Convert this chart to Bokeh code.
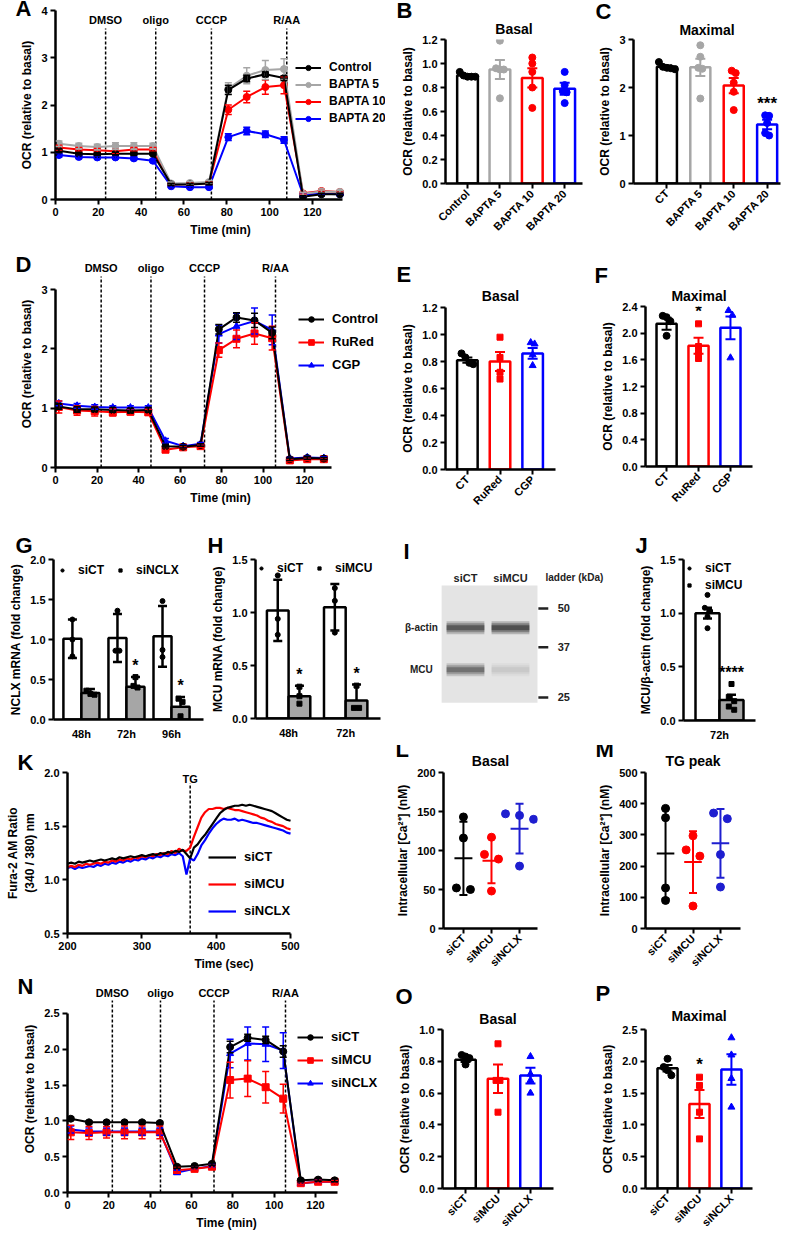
import math
import numpy as np
from bokeh.plotting import figure
from bokeh.models import (Range1d, FixedTicker, NumeralTickFormatter, Whisker, TeeHead,
                          ColumnDataSource, Label, Legend, LegendItem, Title)
from bokeh.layouts import row, column
from bokeh.embed import file_html
from bokeh.resources import INLINE
from bokeh.core.properties import value

FONT = "Liberation Sans"
BLACK, GREY, RED, BLUE = "#000000", "#a6a6a6", "#ff0000", "#0000ff"
DBLUE = "#1e1ecf"
BARGREY = "#a6a6a6"

# ====================== DATA ======================
event_labels = ["DMSO", "oligo", "CCCP", "R/AA"]
time_ticks = [0, 20, 40, 60, 80, 100, 120]

# Panel A (OCR, BAPTA)
a_time = [1.6, 10.9, 19.5, 28.0, 36.6, 45.5, 54.0, 62.8, 71.7, 80.7, 89.3, 98.0, 106.7, 115.6, 124.2, 132.8]
a_events = [23.4, 46.8, 72.8, 108.0]
a_ctrl = [1.03, 0.97, 0.96, 0.97, 0.97, 0.97, 0.32, 0.32, 0.34, 2.32, 2.56, 2.65, 2.57, 0.06, 0.11, 0.11]
a_ctrl_e = [0.04, 0.03, 0.03, 0.03, 0.03, 0.03, 0.02, 0.02, 0.02, 0.10, 0.07, 0.05, 0.05, 0.02, 0.02, 0.02]
a_b5 = [1.18, 1.13, 1.11, 1.13, 1.13, 1.13, 0.34, 0.35, 0.37, 2.35, 2.62, 2.74, 2.76, 0.12, 0.17, 0.16]
a_b5_e = [0.06, 0.06, 0.06, 0.07, 0.07, 0.06, 0.03, 0.03, 0.03, 0.12, 0.17, 0.20, 0.22, 0.03, 0.03, 0.03]
a_b10 = [1.10, 1.06, 1.04, 1.02, 1.06, 1.06, 0.32, 0.33, 0.35, 1.90, 2.17, 2.38, 2.42, 0.13, 0.18, 0.16]
a_b10_e = [0.05, 0.04, 0.04, 0.04, 0.04, 0.04, 0.02, 0.02, 0.02, 0.10, 0.12, 0.15, 0.18, 0.02, 0.02, 0.02]
a_b20 = [0.94, 0.90, 0.89, 0.89, 0.87, 0.82, 0.28, 0.26, 0.26, 1.32, 1.45, 1.38, 1.26, 0.10, 0.12, 0.11]
a_b20_e = [0.04, 0.03, 0.03, 0.03, 0.03, 0.03, 0.02, 0.02, 0.02, 0.07, 0.08, 0.07, 0.07, 0.02, 0.02, 0.02]

# Panel B / C
b_cats = ["Control", "BAPTA 5", "BAPTA 10", "BAPTA 20"]
b_mean = [0.90, 0.95, 0.88, 0.79]
b_sem = [0.01, 0.08, 0.08, 0.05]
b_pts = [[0.93, 0.90, 0.89, 0.89, 0.89], [1.19, 0.96, 0.95, 0.95, 0.71],
         [1.05, 1.00, 0.93, 0.80, 0.63], [0.93, 0.82, 0.77, 0.76, 0.67]]
c_cats = ["CT", "BAPTA 5", "BAPTA 10", "BAPTA 20"]
c_mean = [2.43, 2.42, 2.04, 1.23]
c_sem = [0.03, 0.18, 0.16, 0.10]
c_pts = [[2.53, 2.43, 2.41, 2.40, 2.38], [2.88, 2.64, 2.41, 2.39, 1.77],
         [2.35, 2.30, 2.10, 1.91, 1.53], [1.42, 1.41, 1.26, 1.05, 1.00]]

# Panel D (OCR, RuRed / CGP)
d_time = [1.6, 10.4, 18.9, 27.6, 36.1, 44.7, 53.0, 61.5, 69.9, 78.7, 87.2, 95.9, 104.4, 112.9, 121.3, 129.3]
d_events = [22.0, 46.0, 71.8, 106.0]
d_ctrl = [1.03, 0.98, 0.98, 0.97, 0.96, 0.97, 0.36, 0.35, 0.38, 2.33, 2.53, 2.48, 2.27, 0.14, 0.16, 0.15]
d_ctrl_e = [0.05, 0.05, 0.04, 0.04, 0.04, 0.04, 0.03, 0.02, 0.02, 0.08, 0.08, 0.12, 0.10, 0.02, 0.02, 0.02]
d_rured = [1.02, 0.96, 0.95, 0.93, 0.94, 0.93, 0.30, 0.34, 0.36, 1.98, 2.17, 2.26, 2.18, 0.12, 0.14, 0.14]
d_rured_e = [0.10, 0.08, 0.08, 0.06, 0.05, 0.05, 0.03, 0.02, 0.02, 0.12, 0.15, 0.18, 0.20, 0.02, 0.02, 0.02]
d_cgp = [1.08, 1.04, 1.02, 1.01, 1.01, 1.01, 0.45, 0.36, 0.40, 2.25, 2.38, 2.47, 2.32, 0.15, 0.17, 0.16]
d_cgp_e = [0.04, 0.04, 0.04, 0.03, 0.03, 0.03, 0.04, 0.02, 0.02, 0.15, 0.22, 0.22, 0.25, 0.02, 0.02, 0.02]

# Panel E / F
e_cats = ["CT", "RuRed", "CGP"]
e_mean = [0.81, 0.80, 0.86]
e_sem = [0.02, 0.07, 0.04]
e_pts = [[0.86, 0.83, 0.79, 0.78], [0.98, 0.83, 0.72, 0.67], [0.94, 0.93, 0.85, 0.77]]
f_mean = [2.14, 1.81, 2.08]
f_sem = [0.09, 0.12, 0.17]
f_pts = [[2.26, 2.24, 2.18, 1.96], [2.14, 1.80, 1.71, 1.62], [2.34, 2.27, 1.63]]

# Panel G (NCLX mRNA)
g_groups = ["48h", "72h", "96h"]
g_series = ["siCT", "siNCLX"]
g_mean = [[1.01, 1.02, 1.04], [0.33, 0.41, 0.16]]
g_sd = [[0.24, 0.30, 0.38], [0.05, 0.12, 0.12]]
g_pts = [[[1.25, 1.00, 0.79], [1.36, 0.86, 0.86], [1.48, 0.87, 0.78]],
         [[0.36, 0.32, 0.31], [0.53, 0.42, 0.40], [0.26, 0.22, 0.04]]]
g_stars = [(1, 1, "*"), (1, 2, "*")]

# Panel H (MCU mRNA)
h_groups = ["48h", "72h"]
h_series = ["siCT", "siMCU"]
h_mean = [[1.02, 1.05], [0.21, 0.17]]
h_sd = [[0.29, 0.22], [0.10, 0.15]]
h_pts = [[[1.35, 0.94, 0.79], [1.23, 1.11, 0.81]], [[0.30, 0.21, 0.14], [0.31, 0.10, 0.10]]]
h_stars = [(1, 0, "*"), (1, 1, "*")]

# Panel I (western blot)
blot_lanes = ["siCT", "siMCU"]
blot_bands = ["β-actin", "MCU"]
band_kda = [43, 31]
band_intensity = [[0.85, 0.95], [0.65, 0.12]]
ladder_kda = [50, 37, 25]

# Panel J
j_groups = ["72h"]
j_series = ["siCT", "siMCU"]
j_mean = [[1.00], [0.19]]
j_sem = [[0.05], [0.05]]
j_pts = [[[1.17, 1.05, 1.02, 0.97, 0.86]], [[0.34, 0.22, 0.18, 0.13, 0.10]]]
j_stars = [(1, 0, "****")]

# Panel K (Fura-2 traces)
k_time = list(range(200, 505, 5))
k_tg = 365
k_sict = [1.15, 1.16, 1.15, 1.17, 1.16, 1.17, 1.18, 1.17, 1.18, 1.19, 1.18, 1.19, 1.20, 1.19, 1.21, 1.20,
          1.21, 1.22, 1.21, 1.22, 1.23, 1.22, 1.23, 1.24, 1.23, 1.25, 1.24, 1.26, 1.25, 1.27, 1.26, 1.28,
          1.24, 1.20, 1.30, 1.33, 1.38, 1.42, 1.47, 1.52, 1.57, 1.62, 1.65, 1.67, 1.68, 1.69, 1.69, 1.70,
          1.69, 1.70, 1.69, 1.68, 1.67, 1.66, 1.65, 1.64, 1.62, 1.60, 1.58, 1.56, 1.55]
k_simcu = [1.12, 1.13, 1.12, 1.14, 1.13, 1.15, 1.14, 1.15, 1.16, 1.15, 1.17, 1.16, 1.18, 1.17, 1.19, 1.18,
           1.20, 1.19, 1.21, 1.20, 1.22, 1.21, 1.23, 1.22, 1.24, 1.23, 1.25, 1.24, 1.27, 1.25, 1.29, 1.27,
           1.27, 1.30, 1.40, 1.49, 1.58, 1.63, 1.66, 1.66, 1.67, 1.67, 1.66, 1.67, 1.66, 1.65, 1.65, 1.64,
           1.63, 1.62, 1.61, 1.60, 1.58, 1.57, 1.55, 1.54, 1.52, 1.51, 1.50, 1.48, 1.47]
k_sinclx = [1.11, 1.12, 1.10, 1.12, 1.11, 1.12, 1.13, 1.12, 1.14, 1.13, 1.15, 1.14, 1.16, 1.15, 1.17, 1.16,
            1.18, 1.17, 1.19, 1.18, 1.20, 1.19, 1.21, 1.20, 1.22, 1.21, 1.23, 1.22, 1.24, 1.23, 1.25, 1.22,
            1.05, 1.20, 1.18, 1.24, 1.32, 1.37, 1.43, 1.48, 1.52, 1.55, 1.57, 1.56, 1.56, 1.57, 1.55, 1.56,
            1.55, 1.54, 1.53, 1.53, 1.52, 1.51, 1.50, 1.49, 1.48, 1.47, 1.46, 1.44, 1.43]

# Panel L / M (Ca2+)
si_cats = ["siCT", "siMCU", "siNCLX"]
l_pts = [[143, 116, 50, 52], [117, 95, 89, 48], [147, 145, 140, 80]]
l_mean = [90, 87, 128]
l_sd = [47, 29, 32]
m_pts = [[385, 355, 130, 90], [297, 252, 232, 72], [370, 352, 237, 133]]
m_mean = [240, 213, 273]
m_sd = [145, 99, 110]

# Panel N (OCR, siRNA)
n_time = [1.6, 10.4, 18.9, 27.6, 36.1, 44.7, 53.0, 61.5, 69.9, 78.7, 87.2, 95.9, 104.4, 112.9, 121.3, 129.3]
n_events = [21.7, 45.0, 70.9, 105.5]
n_sict = [1.03, 0.98, 0.98, 0.98, 0.98, 0.97, 0.36, 0.37, 0.40, 2.03, 2.16, 2.13, 1.97, 0.17, 0.18, 0.17]
n_sict_e = [0.02, 0.02, 0.02, 0.02, 0.02, 0.02, 0.02, 0.02, 0.02, 0.08, 0.05, 0.05, 0.08, 0.02, 0.02, 0.02]
n_simcu = [0.84, 0.83, 0.84, 0.84, 0.84, 0.84, 0.31, 0.33, 0.36, 1.57, 1.59, 1.47, 1.31, 0.13, 0.15, 0.15]
n_simcu_e = [0.10, 0.09, 0.08, 0.09, 0.09, 0.09, 0.04, 0.02, 0.02, 0.25, 0.25, 0.22, 0.20, 0.02, 0.02, 0.02]
n_sinclx = [0.88, 0.85, 0.85, 0.85, 0.85, 0.85, 0.28, 0.33, 0.37, 1.94, 2.08, 2.07, 1.98, 0.13, 0.15, 0.15]
n_sinclx_e = [0.05, 0.05, 0.05, 0.05, 0.05, 0.05, 0.03, 0.02, 0.02, 0.20, 0.23, 0.24, 0.25, 0.02, 0.02, 0.02]

# Panel O / P
o_mean = [0.81, 0.69, 0.71]
o_sem = [0.015, 0.09, 0.05]
o_pts = [[0.84, 0.83, 0.82, 0.78], [0.91, 0.68, 0.68, 0.48], [0.83, 0.72, 0.68, 0.60]]
p_mean = [1.89, 1.33, 1.87]
p_sem = [0.05, 0.22, 0.24]
p_pts = [[2.04, 1.91, 1.86, 1.78], [1.75, 1.62, 1.20, 0.78], [2.37, 2.10, 1.73, 1.28]]

# ====================== HELPERS ======================
MSIZE = {"circle": 7, "square": 6, "triangle": 7}


def mkfig(w, h, bl, br, bt, bb, xr, yr, **kw):
    p = figure(width=w, height=h, x_range=xr, y_range=yr, output_backend="svg",
               toolbar_location=None, tools="", title=None, frame_align=False,
               min_border_left=bl, min_border_right=br,
               min_border_top=bt, min_border_bottom=bb, **kw)
    p.grid.visible = False
    p.outline_line_color = None
    for ax in p.axis:
        ax.axis_line_width = 2.5
        ax.axis_line_color = "black"
        ax.major_tick_line_width = 2
        ax.major_tick_line_color = "black"
        ax.major_tick_out = 5
        ax.major_tick_in = 0
        ax.minor_tick_line_color = None
        ax.major_label_text_font = FONT
        ax.major_label_text_font_style = "bold"
        ax.major_label_text_font_size = "11px"
        ax.major_label_text_color = "black"
        ax.major_label_standoff = 3
        ax.axis_label_text_font = FONT
        ax.axis_label_text_font_style = "bold"
        ax.axis_label_text_font_size = "12px"
        ax.axis_label_text_color = "black"
        ax.axis_label_standoff = 4
    return p


def add_title(p, text, size, align, standoff, offset=0):
    p.add_layout(Title(text=text, align=align, vertical_align="bottom", standoff=standoff,
                       offset=offset, text_font=FONT, text_font_style="bold",
                       text_font_size=size, text_color="black"), "above")


def main_title(p, text, standoff):
    add_title(p, text, "14px", "center", standoff)


def letter(p, ch, offset, standoff):
    add_title(p, ch, "22px", "left", standoff, offset)


def txt(p, x, y, t, size="11px", align="center", baseline="middle", color="black"):
    p.text(x=x, y=y, text=t, text_align=value(align), text_baseline=value(baseline),
           text_font=value(FONT), text_font_style=value("bold"), text_font_size=value(size),
           text_color=value(color))


def errbar(p, x, lo, hi, color, cap=10, lw=2, lower=True):
    src = ColumnDataSource(dict(x=list(np.atleast_1d(x)), lo=list(np.atleast_1d(lo)),
                                hi=list(np.atleast_1d(hi))))
    w = Whisker(source=src, base="x", upper="hi", lower="lo", line_color=color, line_width=lw,
                level="annotation",
                upper_head=TeeHead(size=cap, line_color=color, line_width=lw),
                lower_head=TeeHead(size=cap, line_color=color, line_width=lw) if lower else None)
    p.add_layout(w)


def swarm(vals, thr, step):
    vals = np.asarray(vals, float)
    order = np.argsort(-vals)
    offs = np.zeros(len(vals))
    clusters, cur = [], [order[0]]
    for a, b in zip(order[:-1], order[1:]):
        if abs(vals[a] - vals[b]) <= thr:
            cur.append(b)
        else:
            clusters.append(cur)
            cur = [b]
    clusters.append(cur)
    for c in clusters:
        k = len(c)
        for j, i in enumerate(c):
            offs[i] = (j - (k - 1) / 2) * step
    return offs


def mklegend(p, items, loc, font="12px", lh=14, sp=4, gw=26, orient="vertical", standoff=8):
    leg = Legend(items=items, location=loc, orientation=orient,
                 label_text_font=FONT, label_text_font_style="bold", label_text_font_size=font,
                 label_text_color="black", glyph_width=gw, glyph_height=lh, label_height=lh,
                 spacing=sp, padding=0, margin=0, border_line_color=None,
                 background_fill_alpha=0, label_standoff=standoff)
    p.add_layout(leg)


def ocr_panel(dims, t, series, events, xend, xaxis_end, ytop, yaxis_max, yticks, fmt, label_y,
              line_top, leg_xy, leg_font, leg_lh, leg_sp):
    p = mkfig(*dims, Range1d(0, xend), Range1d(0, ytop))
    p.yaxis.bounds = (0, yaxis_max)
    p.xaxis.bounds = (0, xaxis_end)
    p.yaxis.ticker = FixedTicker(ticks=yticks)
    if fmt:
        p.yaxis.formatter = NumeralTickFormatter(format=fmt)
    p.xaxis.ticker = FixedTicker(ticks=time_ticks)
    p.xaxis.axis_label = "Time (min)"
    p.yaxis.axis_label = "OCR (relative to basal)"
    ne = len(events)
    p.segment(x0=events, y0=[0] * ne, x1=events, y1=[line_top] * ne, line_color="black",
              line_width=1.5, line_dash="3 2")
    txt(p, events, [label_y] * ne, event_labels, size="11px")
    rend = {}
    for name, m, e, col, mk in reversed(series):
        m = np.asarray(m)
        e = np.asarray(e)
        src = ColumnDataSource(dict(x=t, y=m, lo=m - e, hi=m + e))
        l = p.line("x", "y", source=src, line_color=col, line_width=2)
        s = p.scatter("x", "y", source=src, marker=mk, size=7, color=col)
        p.add_layout(Whisker(source=src, base="x", upper="hi", lower="lo", line_color=col,
                             line_width=1.5, level="annotation",
                             upper_head=TeeHead(size=7, line_color=col, line_width=1.5),
                             lower_head=TeeHead(size=7, line_color=col, line_width=1.5)))
        rend[name] = [l, s]
    items = [LegendItem(label=s[0], renderers=rend[s[0]]) for s in series]
    mklegend(p, items, leg_xy, font=leg_font, lh=leg_lh, sp=leg_sp)
    return p


def bar_panel(dims, cats, means, errs, pts, colors, markers, ytop, yticks, fmt, title, tstand,
              pad, star=None, bw=0.64, cap=10):
    n = len(cats)
    idx = list(range(n))
    p = mkfig(*dims, Range1d(-pad[0], n - 1 + pad[1]), Range1d(0, ytop))
    main_title(p, title, tstand)
    p.vbar(x=idx, top=means, width=bw, fill_color="white", line_color=colors, line_width=2.5)
    for i in idx:
        off = swarm(pts[i], 0.035 * ytop, 0.12)
        p.scatter(x=[i + o for o in off], y=pts[i], marker=markers[i], size=MSIZE[markers[i]],
                  color=colors[i])
        errbar(p, i, means[i] - errs[i], means[i] + errs[i], colors[i], cap)
    if star:
        i, s = star
        ys = max(max(pts[i]), means[i] + errs[i]) + 0.08 * ytop
        txt(p, [i], [ys], [s], size="17px")
    p.xaxis.ticker = FixedTicker(ticks=idx)
    p.xaxis.major_label_overrides = {i: c for i, c in enumerate(cats)}
    p.xaxis.major_label_orientation = math.pi / 4
    p.yaxis.ticker = FixedTicker(ticks=yticks)
    if fmt:
        p.yaxis.formatter = NumeralTickFormatter(format=fmt)
    p.yaxis.axis_label = "OCR (relative to basal)"
    return p


def grouped_panel(dims, groups, snames, means, errs, pts, ytop, yticks, ylabel, pad, stars,
                  leg_xy, orient, bw=0.4):
    n = len(groups)
    idx = np.arange(n)
    p = mkfig(*dims, Range1d(-pad[0], n - 1 + pad[1]), Range1d(0, ytop))
    fills = ["white", BARGREY]
    markers = ["circle", "square"]
    ns = len(snames)
    items = []
    xpos = []
    for j in range(ns):
        xs = idx + (j - (ns - 1) / 2) * bw
        xpos.append(xs)
        p.vbar(x=xs, top=means[j], width=bw, fill_color=fills[j], line_color="black", line_width=2.5)
        px, py = [], []
        for i in range(n):
            off = swarm(pts[j][i], 0.03 * ytop, 0.09)
            px += [xs[i] + o for o in off]
            py += list(pts[j][i])
        s = p.scatter(x=px, y=py, marker=markers[j], size=5, color="black")
        for i in range(n):
            lo = means[j][i] - errs[j][i] if j == 0 else means[j][i]
            errbar(p, xs[i], lo, means[j][i] + errs[j][i], "black", cap=9, lw=2.5, lower=(j == 0))
        items.append(LegendItem(label=snames[j], renderers=[s]))
    for j, i, s in stars:
        ys = max(max(pts[j][i]), means[j][i] + errs[j][i]) + 0.07 * ytop
        txt(p, [xpos[j][i]], [ys], [s], size="16px")
    p.xaxis.ticker = FixedTicker(ticks=list(idx))
    p.xaxis.major_label_overrides = {int(i): g for i, g in zip(idx, groups)}
    p.xaxis.major_tick_line_color = None
    p.yaxis.ticker = FixedTicker(ticks=yticks)
    p.yaxis.formatter = NumeralTickFormatter(format="0.0")
    p.yaxis.axis_label = ylabel
    mklegend(p, items, leg_xy, font="12px", lh=14, sp=12 if orient == "horizontal" else 3,
             gw=8, orient=orient, standoff=12)
    return p


def dot_panel(dims, cats, pts, means, sds, colors, ytop, yticks, title, tstand, pad):
    n = len(cats)
    idx = list(range(n))
    p = mkfig(*dims, Range1d(-pad[0], n - 1 + pad[1]), Range1d(0, ytop))
    main_title(p, title, tstand)
    for i in idx:
        off = swarm(pts[i], 0.045 * ytop, 0.5)
        p.scatter(x=[i + o for o in off], y=pts[i], marker="circle", size=8, color=colors[i])
    p.segment(x0=[i - 0.32 for i in idx], x1=[i + 0.32 for i in idx], y0=means, y1=means,
              line_color=colors, line_width=2)
    for i in idx:
        errbar(p, i, means[i] - sds[i], means[i] + sds[i], colors[i], cap=8, lw=2)
    p.xaxis.ticker = FixedTicker(ticks=idx)
    p.xaxis.major_label_overrides = {i: c for i, c in enumerate(cats)}
    p.xaxis.major_label_orientation = math.pi / 4
    p.yaxis.ticker = FixedTicker(ticks=yticks)
    p.yaxis.axis_label = "Intracellular [Ca²⁺] (nM)"
    return p


# ====================== ROW 1 (y 0-240) ======================
pA = ocr_panel((393, 240, 55, 8, 10, 41), a_time,
               [("Control", a_ctrl, a_ctrl_e, BLACK, "circle"),
                ("BAPTA 5", a_b5, a_b5_e, GREY, "circle"),
                ("BAPTA 10", a_b10, a_b10_e, RED, "circle"),
                ("BAPTA 20", a_b20, a_b20_e, BLUE, "circle")],
               a_events, 154.1, 134, 4.0, 4, [0, 1, 2, 3, 4], None, 3.79, 3.62, (240, 74),
               "12px", 13, 3)
letter(pA, "A", -40, -20)

pB = bar_panel((197, 240, 52, 8, 39, 40), b_cats, b_mean, b_sem, b_pts,
               [BLACK, GREY, RED, BLUE], ["circle"] * 4, 1.2,
               [0, 0.2, 0.4, 0.6, 0.8, 1.0, 1.2], "0.0", "Basal", 6, (0.68, 0.55), bw=0.64)
letter(pB, "B", -49, -15)

pC = bar_panel((200, 240, 43, 10, 39, 40), c_cats, c_mean, c_sem, c_pts,
               [BLACK, GREY, RED, BLUE], ["circle"] * 4, 3.0,
               [0, 1, 2, 3], None, "Maximal", 4, (1.0, 0.4), star=(3, "***"), bw=0.6)
letter(pC, "C", -38, -13)

# ====================== ROW 2 (y 240-520) ======================
pD = ocr_panel((393, 280, 55, 8, 20, 53), d_time,
               [("Control", d_ctrl, d_ctrl_e, BLACK, "circle"),
                ("RuRed", d_rured, d_rured_e, RED, "square"),
                ("CGP", d_cgp, d_cgp_e, BLUE, "triangle")],
               d_events, 159.0, 133, 3.49, 3, [0, 1, 2, 3], None, 3.36, 3.22, (243, 95),
               "13px", 14, 8)
letter(pD, "D", -40, -32.6)

pE = bar_panel((197, 280, 52, 35, 67, 51), e_cats, e_mean, e_sem, e_pts,
               [BLACK, RED, BLUE], ["circle", "square", "triangle"], 1.2,
               [0, 0.2, 0.4, 0.6, 0.8, 1.0, 1.2], "0.0", "Basal", 7, (0.67, 0.7), bw=0.63)
letter(pE, "E", -49, -9.6)

pF = bar_panel((200, 280, 55, 38, 66, 54), e_cats, f_mean, f_sem, f_pts,
               [BLACK, RED, BLUE], ["circle", "square", "triangle"], 2.4,
               [0, 0.4, 0.8, 1.2, 1.6, 2.0, 2.4], "0.0", "Maximal", 6, (0.66, 0.69),
               star=(1, "*"), bw=0.63)
letter(pF, "F", -51, -11.6)

# ====================== ROW 3 (y 520-745) ======================
pG = grouped_panel((205, 225, 53, 2, 39, 26), g_groups, g_series, g_mean, g_sd, g_pts, 2.0,
                   [0, 0.5, 1.0, 1.5, 2.0], "NCLX mRNA (fold change)", (0.62, 0.71), g_stars,
                   (5, 142), "horizontal", bw=0.4)
letter(pG, "G", -38, 2.4)

pH = grouped_panel((195, 225, 50, 20, 39, 27), h_groups, h_series, h_mean, h_sd, h_pts, 1.5,
                   [0, 0.5, 1.0, 1.5], "MCU mRNA (fold change)", (0.58, 0.61), h_stars,
                   (2, 143), "horizontal", bw=0.38)
letter(pH, "H", -48, 2.4)

# Panel I: western blot (x in lane units, y in kDa on a log scale)
pI = figure(width=207, height=225, x_range=Range1d(-1.444, 3.156), y_range=Range1d(17.2, 99.2),
            y_axis_type="log", output_backend="svg", toolbar_location=None, tools="",
            title=None, frame_align=False,
            min_border_left=0, min_border_right=0, min_border_top=0, min_border_bottom=0)
pI.axis.visible = False
pI.grid.visible = False
pI.outline_line_color = None
pI.quad(left=-0.53, right=1.6, bottom=24.0, top=59.8, fill_color="#e4e4e4", line_color=None)
for lh_, la_ in zip([13, 9, 5], [0.25, 0.35, 0.5]):
    bx, by, ba = [], [], []
    for bi, kda in enumerate(band_kda):
        for li in range(len(blot_lanes)):
            bx.append(li)
            by.append(kda)
            ba.append(band_intensity[bi][li] * la_)
    pI.rect(x=bx, y=by, width=0.84, height=lh_, height_units="screen", fill_color="#1a1a1a",
            fill_alpha=ba, line_color=None)
lane_label_kda = 63.6
txt(pI, list(range(len(blot_lanes))), [lane_label_kda] * len(blot_lanes), blot_lanes, size="11px",
    color="#222222")
txt(pI, [2.42], [lane_label_kda], ["ladder (kDa)"], size="10px", color="#222222")
pI.segment(x0=[1.62] * len(ladder_kda), x1=[1.84] * len(ladder_kda), y0=ladder_kda, y1=ladder_kda,
           line_color="#222222", line_width=2.5)
txt(pI, [2.05] * len(ladder_kda), ladder_kda, [str(k) for k in ladder_kda], size="11px",
    align="left", color="#222222")
txt(pI, [-0.98] * len(blot_bands), band_kda, blot_bands, size="10px", color="#222222")
pI.add_layout(Label(x=3, y=207, x_units="screen", y_units="screen", text="I",
                    text_font=FONT, text_font_style="bold", text_font_size="22px",
                    text_baseline="top", text_align="left", text_color="black"))

pJ = grouped_panel((183, 225, 76, 35, 39, 25), j_groups, j_series, j_mean, j_sem, j_pts, 1.5,
                   [0, 0.5, 1.0, 1.5], "MCU/β-actin (fold change)", (0.6, 0.6), j_stars,
                   (2, 128), "vertical", bw=0.4)
letter(pJ, "J", -48, 2.4)

# ====================== ROW 4 (y 745-975) ======================
pK = mkfig(392, 230, 67, 12, 27, 42, Range1d(200, 621), Range1d(0.5, 2.0))
pK.xaxis.bounds = (200, 500)
pK.xaxis.ticker = FixedTicker(ticks=[200, 300, 400, 500])
pK.yaxis.ticker = FixedTicker(ticks=[0.5, 1.0, 1.5, 2.0])
pK.yaxis.formatter = NumeralTickFormatter(format="0.0")
pK.xaxis.axis_label = "Time (sec)"
pK.yaxis.axis_label = "Fura-2 AM Ratio\n(340 / 380) nm"
pK.segment(x0=[k_tg], x1=[k_tg], y0=[0.5], y1=[1.9], line_color="black", line_width=1.5,
           line_dash="3 2")
txt(pK, [k_tg], [2.0], ["TG"], size="11px", baseline="top")
k_r = {}
for name, ys, col in [("siNCLX", k_sinclx, BLUE), ("siMCU", k_simcu, RED), ("siCT", k_sict, BLACK)]:
    k_r[name] = pK.line(k_time, ys, line_color=col, line_width=2.2)
mklegend(pK, [LegendItem(label=n_, renderers=[k_r[n_]]) for n_ in ["siCT", "siMCU", "siNCLX"]],
         (141, 15), font="13px", lh=14, sp=12, gw=28)
letter(pK, "K", -50, -4.6)

pL = dot_panel((198, 230, 51, 53, 27, 42), si_cats, l_pts, l_mean, l_sd, [BLACK, RED, DBLUE],
               200, [0, 50, 100, 150, 200], "Basal", 7, (0.71, 0.64))
letter(pL, "L", -48, -29.6)

pM = dot_panel((200, 230, 55, 50, 27, 42), si_cats, m_pts, m_mean, m_sd, [BLACK, RED, DBLUE],
               500, [0, 100, 200, 300, 400, 500], "TG peak", 7, (0.73, 0.73))
letter(pM, "M", -50, -29.6)

# ====================== ROW 5 (y 975-1237) ======================
pN = ocr_panel((392, 262, 67, 7, 10, 45), n_time,
               [("siCT", n_sict, n_sict_e, BLACK, "circle"),
                ("siMCU", n_simcu, n_simcu_e, RED, "square"),
                ("siNCLX", n_sinclx, n_sinclx_e, BLUE, "triangle")],
               n_events, 153.9, 130.6, 2.89, 2.5, [0, 0.5, 1.0, 1.5, 2.0, 2.5], "0.0", 2.79, 2.68,
               (230, 102), "13px", 14, 8)
letter(pN, "N", -50, -27.6)

pO = bar_panel((198, 262, 50, 37, 54, 49), si_cats, o_mean, o_sem, o_pts,
               [BLACK, RED, BLUE], ["circle", "square", "triangle"], 1.0,
               [0, 0.2, 0.4, 0.6, 0.8, 1.0], "0.0", "Basal", 6, (0.71, 0.71), bw=0.63)
letter(pO, "O", -47, -6.6)

pP = bar_panel((200, 262, 55, 38, 54, 49), si_cats, p_mean, p_sem, p_pts,
               [BLACK, RED, BLUE], ["circle", "square", "triangle"], 2.5,
               [0, 0.5, 1.0, 1.5, 2.0, 2.5], "0.0", "Maximal", 11, (0.69, 0.66),
               star=(1, "*"), bw=0.63)
letter(pP, "P", -50, -11.6)

layout = column(row(pA, pB, pC), row(pD, pE, pF), row(pG, pH, pI, pJ),
                row(pK, pL, pM), row(pN, pO, pP))

open("out.html", "w").write(file_html(layout, INLINE, "Figure"))
